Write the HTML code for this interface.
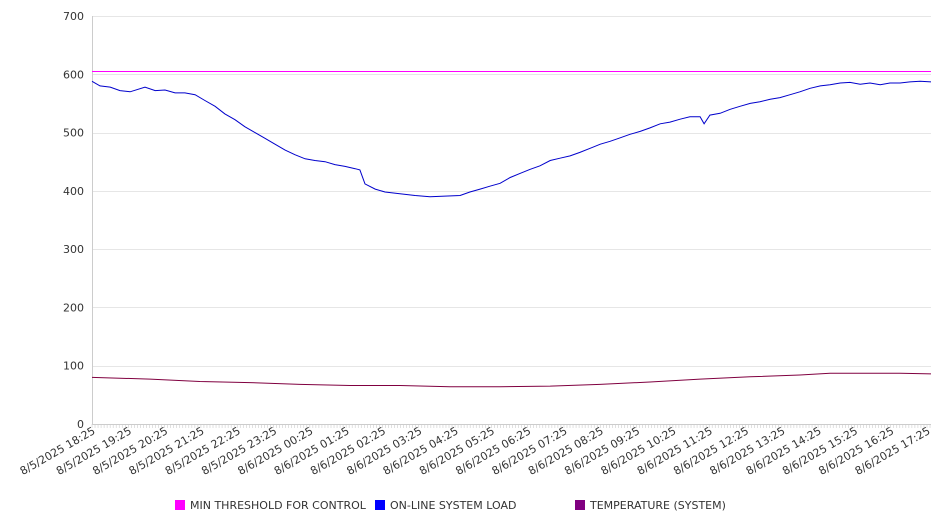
<!DOCTYPE html>
<html><head><meta charset="utf-8"><style>
html,body{margin:0;padding:0;background:#fff;}
svg text{font-family:"DejaVu Sans","Liberation Sans",sans-serif;fill:#333;}
</style></head><body>
<svg id="chart" width="946" height="526" xmlns="http://www.w3.org/2000/svg"></svg>
<script>
const loadHours=[0,.22,.50,.77,1.05,1.46,1.74,2.01,2.29,2.56,2.84,3.11,3.39,3.66,3.94,4.21,4.49,4.77,5.04,5.32,5.59,5.87,6.14,6.42,6.69,6.97,7.25,7.38,7.52,7.80,8.07,8.48,8.90,9.31,9.72,10.14,10.41,10.69,10.96,11.24,11.52,11.79,12.07,12.34,12.62,12.89,13.17,13.44,13.72,14.00,14.27,14.55,14.82,15.10,15.37,15.65,15.92,16.20,16.47,16.75,16.86,17.02,17.30,17.58,17.85,18.13,18.40,18.68,18.95,19.23,19.50,19.78,20.06,20.33,20.61,20.88,21.16,21.43,21.71,21.98,22.26,22.53,22.81,23.11];
const loadValues=[588,580,578,572,570,578,572,573,568,568,565,555,545,532,522,510,500,490,480,470,462,455,452,450,445,442,438,436,412,403,398,395,392,390,391,392,398,403,408,413,423,430,437,443,452,456,460,466,473,480,485,491,497,502,508,515,518,523,527,527,515,530,533,540,545,550,553,557,560,565,570,576,580,582,585,586,583,585,582,585,585,587,588,587];
const tempHours=[0,1.6,2.97,4.35,5.73,7.11,8.48,9.86,11.24,12.62,13.99,15.37,16.75,18.13,19.50,20.33,22.26,23.11];
const tempValues=[80,77,73,71,68,66,66,64,64,65,68,72,77,81,84,87,87,86];
const threshold=605;
const yTicks=[0,100,200,300,400,500,600,700];
const xLabels=["8/5/2025 18:25","8/5/2025 19:25","8/5/2025 20:25","8/5/2025 21:25","8/5/2025 22:25","8/5/2025 23:25","8/6/2025 00:25","8/6/2025 01:25","8/6/2025 02:25","8/6/2025 03:25","8/6/2025 04:25","8/6/2025 05:25","8/6/2025 06:25","8/6/2025 07:25","8/6/2025 08:25","8/6/2025 09:25","8/6/2025 10:25","8/6/2025 11:25","8/6/2025 12:25","8/6/2025 13:25","8/6/2025 14:25","8/6/2025 15:25","8/6/2025 16:25","8/6/2025 17:25"];
const legendItems=["MIN THRESHOLD FOR CONTROL","ON-LINE SYSTEM LOAD","TEMPERATURE (SYSTEM)"];
const legendColors=["#ff00ff","#0000ff","#800080"];

const svg=document.getElementById('chart');
const NS='http://www.w3.org/2000/svg';
const L=92,R=931,T=16,B=424,XMAX=23.11,YMAX=700;
const x=h=>L+h/XMAX*(R-L);
const y=v=>B-v/YMAX*(B-T);
function mk(tag,attrs,parent){const e=document.createElementNS(NS,tag);for(const k in attrs)e.setAttribute(k,attrs[k]);(parent||svg).appendChild(e);return e;}

yTicks.forEach(v=>{
  const yy=Math.round(y(v))+0.5;
  const g=mk('line',{x1:L,x2:R,y1:yy,y2:yy,stroke:v===0?'#ccc':'#e6e6e6','stroke-width':1});
  
  
  const t=mk('text',{x:L-8,y:y(v)+4,'text-anchor':'end','font-size':11});
  t.textContent=v;
  
  
});
const ax=mk('line',{x1:L+0.5,x2:L+0.5,y1:T,y2:B,stroke:'#ccc'});


for(let m=0;m<=XMAX*60;m+=5){
  const tk=mk('line',{x1:x(m/60),x2:x(m/60),y1:B,y2:B+4,stroke:'#ccc','stroke-width':0.6});
  
  
}
xLabels.forEach((lab,i)=>{
  const px=x(i)+4,py=B+9;
  const t=mk('text',{x:px,y:py,'text-anchor':'end','font-size':11,transform:`rotate(-30 ${px} ${py})`});
  t.textContent=lab;
  
  
});
const ty=Math.round(y(threshold))+0.5;
const th=mk('line',{x1:L,x2:R,y1:ty,y2:ty,stroke:'#ff00ff','stroke-width':1});


function path(hs,vs,color,name){
  const d=hs.map((h,i)=>(i?'L':'M')+x(h).toFixed(1)+','+y(vs[i]).toFixed(1)).join('');
  const p=mk('path',{d:d,fill:'none',stroke:color,'stroke-width':1});
  
  
}
path(loadHours,loadValues,'#0000cc','online-system-load-line');
path(tempHours,tempValues,'#800040','temperature-line');
const lx=[175,375,575];
legendItems.forEach((n,i)=>{
  const r=mk('rect',{x:lx[i],y:500,width:10,height:10,fill:legendColors[i]});
  
  
  const t=mk('text',{x:lx[i]+15,y:509,'font-size':11});
  t.textContent=n;
  
  
});
</script>
</body></html>
